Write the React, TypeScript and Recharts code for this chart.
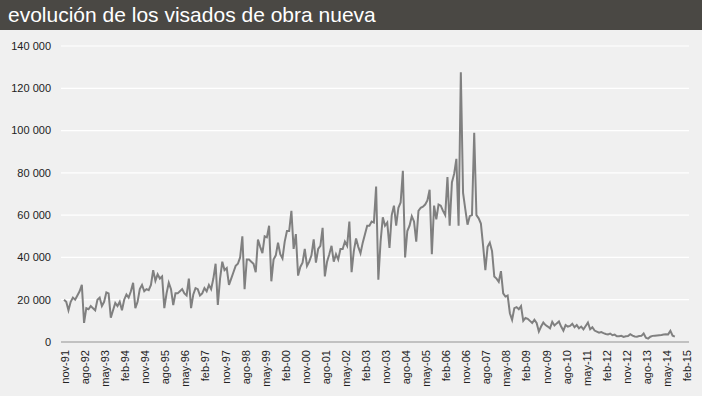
import { LineChart, Line, XAxis, YAxis, CartesianGrid } from 'recharts'

// Spanish month abbreviations used on the category axis
const MONTHS = ['ene', 'feb', 'mar', 'abr', 'may', 'jun', 'jul', 'ago', 'sep', 'oct', 'nov', 'dic']
const FIRST_YEAR = 1991
const FIRST_MONTH = 10 // nov
const CATEGORY_COUNT = 280 // nov-91 .. feb-15

// monthly visados de obra nueva
const v1991 = [20000, 19000]
const v1992 = [15000, 19000, 21000, 20000, 22000, 24000, 27000, 9000, 16000, 15500, 17000, 16000]
const v1993 = [15000, 20000, 21000, 17000, 19000, 23500, 23000, 11500, 15000, 18500, 17000, 19000]
const v1994 = [15000, 20000, 22500, 21000, 24000, 28000, 16000, 19000, 25000, 27000, 24000, 25000]
const v1995 = [24500, 27000, 34000, 29000, 32000, 30000, 31000, 16000, 23000, 28000, 25000, 17500]
const v1996 = [23000, 23000, 24000, 25000, 23000, 22000, 30000, 16000, 22500, 25500, 25000, 22000]
const v1997 = [23000, 25500, 24000, 27000, 25000, 30000, 37000, 17500, 30000, 38000, 34000, 35000]
const v1998 = [27000, 30000, 33000, 36000, 37000, 40000, 50000, 25000, 39000, 39000, 38000, 37000]
const v1999 = [33000, 48500, 45000, 42000, 50000, 49500, 55000, 28700, 39000, 41000, 47000, 41500]
const v2000 = [39500, 47500, 52500, 52500, 62000, 44000, 51000, 31400, 35500, 37500, 44000, 36000]
const v2001 = [38000, 41000, 48500, 37500, 44000, 45500, 54000, 31000, 38000, 41500, 45500, 38000]
const v2002 = [41500, 39000, 44000, 44000, 47500, 45500, 57000, 33000, 43000, 49000, 45000, 42000]
const v2003 = [47000, 51000, 55000, 55000, 57000, 56500, 73500, 29500, 47500, 59000, 55000, 56500]
const v2004 = [44500, 60000, 64500, 55000, 63500, 66000, 81000, 40000, 52500, 55000, 59500, 57000]
const v2005 = [47500, 62000, 63500, 64000, 65000, 67000, 72000, 41500, 64500, 58000, 65000, 64500]
const v2006 = [62000, 60000, 78000, 55000, 75500, 79500, 86600, 55000, 127600, 70500, 62800, 55500]
const v2007 = [59500, 60000, 99000, 60000, 58500, 56000, 45500, 34000, 45000, 47000, 43000, 31000]
const v2008 = [30000, 28500, 33500, 23000, 21500, 22000, 13600, 10500, 16000, 16500, 15500, 17000]
const v2009 = [10000, 11400, 11000, 10000, 9000, 10500, 9000, 5000, 7300, 9200, 8000, 7300]
const v2010 = [6500, 9500, 7800, 8800, 9700, 7300, 5400, 8000, 7300, 7600, 8600, 7000]
const v2011 = [8000, 6500, 7300, 6000, 7600, 9200, 6000, 7000, 5400, 4900, 4400, 4700]
const v2012 = [4200, 3800, 3600, 4000, 3200, 3500, 2700, 2700, 2900, 2400, 2700, 2800]
const v2013 = [3700, 3000, 2600, 2500, 2800, 2900, 4000, 2000, 1600, 2500, 2900, 3000]
const v2014 = [3100, 3200, 3300, 3500, 3700, 3600, 5300, 3000, 2500]

const visados = [
  ...v1991, ...v1992, ...v1993, ...v1994, ...v1995, ...v1996, ...v1997, ...v1998,
  ...v1999, ...v2000, ...v2001, ...v2002, ...v2003, ...v2004, ...v2005, ...v2006,
  ...v2007, ...v2008, ...v2009, ...v2010, ...v2011, ...v2012, ...v2013, ...v2014,
]

const Y_TICKS = [0, 20000, 40000, 60000, 80000, 100000, 120000, 140000]

const categories = Array.from({ length: CATEGORY_COUNT }, (_, i) => {
  const m = FIRST_MONTH + i
  const year = FIRST_YEAR + Math.floor(m / 12)
  return `${MONTHS[m % 12]}-${String(year % 100).padStart(2, '0')}`
})

const data = categories.map((mes, i) => ({
  mes,
  visados: i < visados.length ? visados[i] : null,
}))

const FONT = '"Liberation Sans", Arial, sans-serif'

const fmtThousands = (v: number) => String(v).replace(/\B(?=(\d{3})+(?!\d))/g, ' ')

const MonthTick = ({ x, y, payload }: any) => (
  <text
    x={x + 1}
    y={y}
    transform={`rotate(-90, ${x + 1}, ${y})`}
    textAnchor="end"
    dominantBaseline="central"
    fontSize={11}
    fontFamily={FONT}
    fill="#222"
  >
    {payload.value}
  </text>
)

export default function App() {
  return (
    <div
      style={{
        position: 'absolute',
        left: 0,
        top: 0,
        width: 702,
        height: 396,
        background: '#f0f0f0',
        fontFamily: FONT,
      }}
    >
      <div
        style={{
          height: 30,
          background: '#4a4844',
          color: '#fff',
          fontSize: 21,
          lineHeight: '30px',
          paddingLeft: 8,
          whiteSpace: 'nowrap',
        }}
      >
        evolución de los visados de obra nueva
      </div>
      <LineChart
        width={702}
        height={366}
        data={data}
        margin={{ top: 16, right: 13, bottom: 4, left: 0 }}
      >
        <CartesianGrid stroke="#ffffff" strokeWidth={1.2} vertical={false} />
        <XAxis
          dataKey="mes"
          interval={8}
          height={50}
          padding={{ left: 3, right: 3 }}
          tickLine={false}
          axisLine={{ stroke: '#8a8a8a', strokeWidth: 1 }}
          tick={<MonthTick />}
        />
        <YAxis
          domain={[0, 140000]}
          ticks={Y_TICKS}
          width={61}
          tickLine={false}
          axisLine={false}
          tickMargin={4}
          tickFormatter={fmtThousands}
          tick={{ fill: '#222', fontSize: 11, fontFamily: FONT }}
        />
        <Line
          type="linear"
          dataKey="visados"
          stroke="#808080"
          strokeWidth={2}
          dot={false}
          isAnimationActive={false}
        />
      </LineChart>
    </div>
  )
}
